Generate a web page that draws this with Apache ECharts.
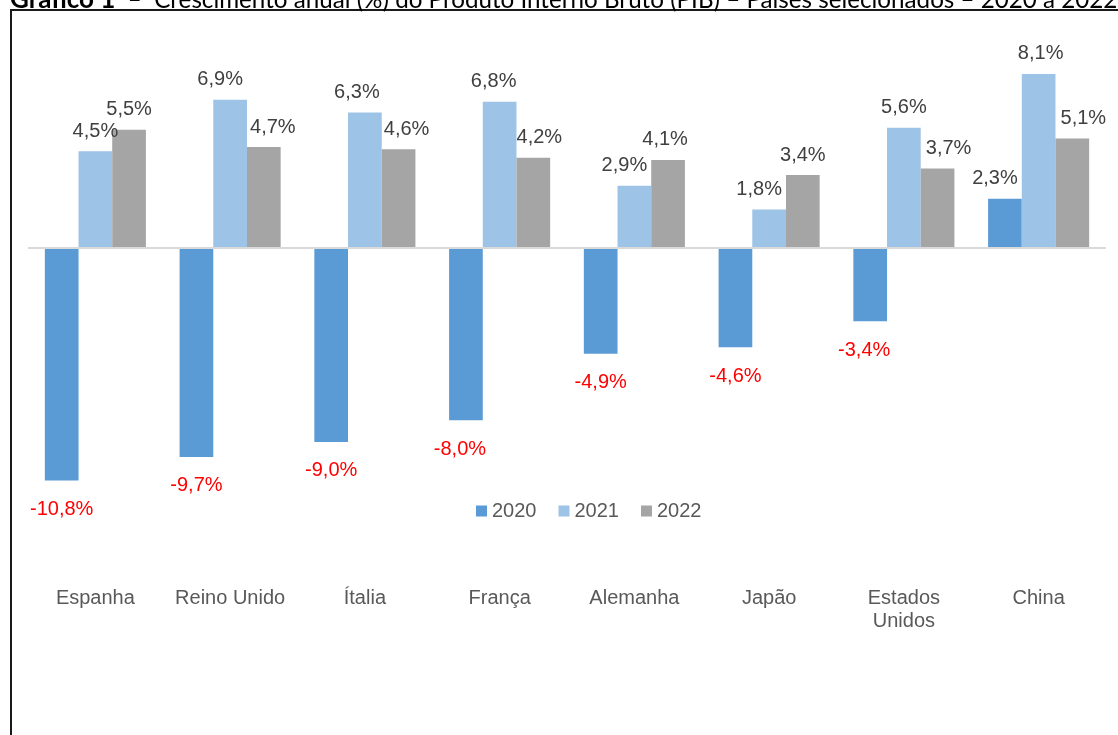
<!DOCTYPE html>
<html>
<head>
<meta charset="utf-8">
<script src="https://cdn.jsdelivr.net/npm/echarts@6/dist/echarts.min.js"></script>
<style>
    html, body { margin: 0; padding: 0; background: #fff; }
    #chart { width: 1118px; height: 735px; }
</style>
</head>
<body>
<div id="chart"></div>
<script>
// países e crescimento anual do PIB (%)
var paises = ['Espanha', 'Reino Unido', 'Ítalia', 'França', 'Alemanha', 'Japão', 'Estados\nUnidos', 'China'];
var anos = ['2020', '2021', '2022'];
var pib2020 = [-10.8, -9.7, -9.0, -8.0, -4.9, -4.6, -3.4, 2.3];
var pib2021 = [4.5, 6.9, 6.3, 6.8, 2.9, 1.8, 5.6, 8.1];
var pib2022 = [5.5, 4.7, 4.6, 4.2, 4.1, 3.4, 3.7, 5.1];
var cores = ['#5b9bd5', '#9dc3e6', '#a5a5a5'];

// deslocamento horizontal dos rótulos (px), como no gráfico original
var desloc = [
    [0, 0, 0, -6, 0, 0, -6, -10],
    [0, -10, -8, -6, -10, -10, 0, 2],
    [0, 9, 8, 6, -3, 0, 11, 11]
];

var chart = echarts.init(document.getElementById('chart'));

function pontos(valores, i) {
    return valores.map(function (v, j) {
        var lbl = { offset: [desloc[i][j], 0] };
        if (v < 0) {
            lbl.position = 'bottom';
            lbl.distance = 19;
            lbl.color = '#ff0000';
        }
        return { value: v, label: lbl };
    });
}

function serie(nome, valores, i) {
    var s = {
        name: nome,
        type: 'bar',
        barGap: '0%',
        barCategoryGap: '25%',
        itemStyle: { color: cores[i] },
        label: {
            show: true,
            position: 'top',
            distance: 10,
            fontFamily: 'Liberation Sans',
            fontSize: 20,
            color: '#404040',
            formatter: function (p) {
                return p.value.toFixed(1).replace('.', ',') + '%';
            }
        },
        data: pontos(valores, i)
    };
    if (i === 0) { // linha do zero
        s.markLine = {
            silent: true,
            symbol: ['none', 'none'],
            label: { show: false },
            lineStyle: { color: '#d9d9d9', type: 'solid', width: 2 },
            data: [{ yAxis: 0 }]
        };
    }
    return s;
}

var option = {
    animation: false,
    backgroundColor: '#fff',
    title: {
        text: '{b|Gráfico 1}  –  Crescimento anual (%) do Produto Interno Bruto (PIB) – Países selecionados – 2020 a 2022',
        left: 10,
        top: -13,
        padding: 0,
        textStyle: {
            fontFamily: 'Lato',
            fontWeight: 'normal',
            fontSize: 24.2,
            color: '#000',
            rich: {
                b: { fontFamily: 'Lato', fontWeight: 'bold', fontSize: 26, color: '#000' }
            }
        }
    },
    graphic: [{
        type: 'rect',
        shape: { x: 11, y: 10, width: 1200, height: 800 },
        style: { fill: 'none', stroke: '#1a1a1a', lineWidth: 2 },
        silent: true
    }],
    legend: {
        data: anos,
        left: 476,
        top: 501,
        padding: 0,
        icon: 'rect',
        itemWidth: 11,
        itemHeight: 11,
        itemGap: 22,
        textStyle: { fontFamily: 'Liberation Sans', fontSize: 20, color: '#595959' }
    },
    grid: { left: 28, right: 12, top: 33, bottom: 164, containLabel: false },
    xAxis: {
        type: 'category',
        data: paises,
        axisLine: { show: false },
        axisTick: { show: false },
        axisLabel: {
            margin: 16,
            fontFamily: 'Liberation Sans',
            fontSize: 20,
            lineHeight: 23,
            color: '#595959',
            interval: 0
        }
    },
    yAxis: {
        type: 'value',
        min: -15,
        max: 10,
        show: false
    },
    series: [
        serie(anos[0], pib2020, 0),
        serie(anos[1], pib2021, 1),
        serie(anos[2], pib2022, 2)
    ]
};

chart.setOption(option);
</script>
</body>
</html>
